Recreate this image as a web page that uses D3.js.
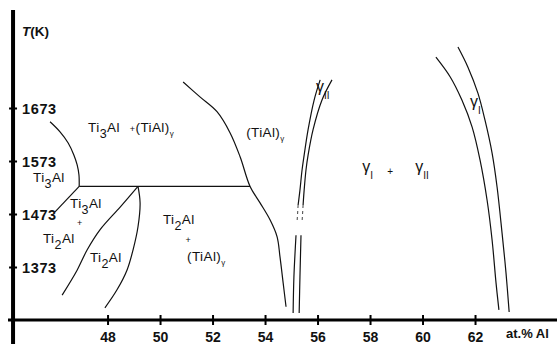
<!DOCTYPE html>
<html>
<head>
<meta charset="utf-8">
<script src="https://cdn.jsdelivr.net/npm/d3@7"></script>
<style>
  html, body { margin: 0; padding: 0; background: #fff; }
  svg { display: block; font-family: "Liberation Sans", Arial, sans-serif; }
</style>
</head>
<body>
<svg id="chart" width="557" height="344"></svg>
<script>
// tick values
const xTicks = [48, 50, 52, 54, 56, 58, 60, 62];
const yTicks = [1373, 1473, 1573, 1673];

// phase boundaries, [at.% Al, T(K)]
const ti3AlSolvus = [[45.81, 1647], [46.19, 1628], [46.50, 1607], [46.72, 1584], [46.84, 1566], [46.91, 1547], [46.92, 1525]];
const eutectoid = [[46.92, 1525], [53.43, 1525]];
const ti3AlTi2Al = [[46.92, 1525], [46.0, 1477]];
const ti2AlLeft = [[49.16, 1525], [48.48, 1486], [47.71, 1443], [47.22, 1405], [46.84, 1367], [46.27, 1320]];
const ti2AlRight = [[49.16, 1525], [49.24, 1494], [49.16, 1449], [48.97, 1405], [48.74, 1367], [48.36, 1330], [47.90, 1296]];
const tiAlBoundary = [[50.88, 1722], [51.52, 1694], [52.17, 1666], [52.67, 1626], [53.05, 1581], [53.43, 1525],
  [53.81, 1494], [54.19, 1462], [54.46, 1430], [54.57, 1392], [54.69, 1343], [54.80, 1298]];

const gammaIILeftUpper = [[56.10, 1726], [55.87, 1688], [55.64, 1632], [55.49, 1584], [55.41, 1556], [55.33, 1518], [55.26, 1490]];
const gammaIILeftDashed = [[55.26, 1490], [55.22, 1458]];
const gammaIILeftLower = [[55.18, 1433], [55.10, 1354], [55.07, 1286]];
const gammaIIRightUpper = [[56.55, 1726], [56.17, 1688], [55.83, 1632], [55.64, 1584], [55.56, 1556], [55.49, 1518], [55.45, 1490]];
const gammaIIRightDashed = [[55.45, 1490], [55.41, 1458]];
const gammaIIRightLower = [[55.37, 1433], [55.33, 1354], [55.30, 1286]];

const gammaILeft = [[60.51, 1769], [61.05, 1732], [61.50, 1688], [61.89, 1637], [62.19, 1575], [62.46, 1499], [62.65, 1424], [62.80, 1343], [62.91, 1292]];
const gammaIRight = [[61.35, 1788], [61.73, 1750], [62.11, 1701], [62.38, 1650], [62.65, 1588], [62.84, 1524], [63.03, 1437], [63.18, 1362], [63.30, 1288]];

// region labels: text parts (sub = subscript, tiny = small subscript, small = small sign), anchored at [at.% Al, T(K)]
const phaseLabels = [
  { parts: [["Ti"], ["3", "sub"], ["Al"]], at: [47.26, 1628] },
  { parts: [["+", "small"], ["(TiAl)"], ["γ", "tiny"]], at: [48.85, 1628] },
  { parts: [["(TiAl)"], ["γ", "tiny"]], at: [53.28, 1618] },
  { parts: [["Ti"], ["3", "sub"], ["Al"]], at: [45.16, 1533] },
  { parts: [["Ti"], ["3", "sub"], ["Al"]], at: [46.57, 1484] },
  { parts: [["+", "small"]], at: [46.84, 1450] },
  { parts: [["Ti"], ["2", "sub"], ["Al"]], at: [45.54, 1418] },
  { parts: [["Ti"], ["2", "sub"], ["Al"]], at: [47.33, 1382] },
  { parts: [["Ti"], ["2", "sub"], ["Al"]], at: [50.11, 1454] },
  { parts: [["+", "small"]], at: [50.97, 1418] },
  { parts: [["(TiAl)"], ["γ", "tiny"]], at: [51.03, 1384] }
];
const gammaLabels = [
  { parts: [["γ"], ["II", "sub"]], at: [55.94, 1703] },
  { parts: [["γ"], ["I", "sub"]], at: [57.70, 1552] },
  { parts: [["+", "small"]], at: [58.66, 1552] },
  { parts: [["γ"], ["II", "sub"]], at: [59.72, 1552] },
  { parts: [["γ"], ["I", "sub"]], at: [61.81, 1675] }
];

const svg = d3.select("#chart");
const width = 557, height = 344;

const xScale = d3.scaleLinear().domain([44.36, 65.1]).range([12, 556.4]);
const yScale = d3.scaleLinear().domain([1273, 1873]).range([320, 2]);

// axes
const xAxis = svg.append("g")
  .attr("transform", `translate(0,${ yScale(1273) })`)
  .call(d3.axisBottom(xScale).tickValues(xTicks).tickSize(5).tickPadding(7).tickFormat(d3.format("d")));
xAxis.select(".domain").remove();
xAxis.selectAll(".tick line").attr("y1", -5).attr("stroke", "#000").attr("stroke-width", 2);
xAxis.selectAll(".tick text")
  .attr("font-size", 14).attr("font-weight", "bold").attr("fill", "#111")
  .attr("font-family", "Liberation Sans, Arial, sans-serif");
xAxis.append("line")
  .attr("x1", 8).attr("x2", width).attr("y1", 0).attr("y2", 0)
  .attr("stroke", "#000").attr("stroke-width", 3);

const yAxis = svg.append("g")
  .attr("transform", `translate(${ xScale(44.4) },0)`)
  .call(d3.axisRight(yScale).tickValues(yTicks).tickSize(4).tickPadding(5).tickFormat(d3.format("d")));
yAxis.select(".domain").remove();
yAxis.selectAll(".tick line").attr("x1", -4).attr("stroke", "#000").attr("stroke-width", 2);
yAxis.selectAll(".tick text")
  .attr("font-size", 14.5).attr("font-weight", "bold").attr("fill", "#111")
  .attr("dy", "0.4em").attr("letter-spacing", 0.6)
  .attr("font-family", "Liberation Sans, Arial, sans-serif");
yAxis.append("line")
  .attr("x1", 0).attr("x2", 0).attr("y1", 10).attr("y2", height)
  .attr("stroke", "#000").attr("stroke-width", 4);

// axis titles
const yTitle = svg.append("text")
  .attr("x", 22).attr("y", 36)
  .attr("font-size", 13.5).attr("font-weight", "bold").attr("fill", "#111");
yTitle.append("tspan").attr("font-style", "italic").text("T");
yTitle.append("tspan").text("(K)");

svg.append("text")
  .attr("x", 506).attr("y", 338)
  .attr("font-size", 13).attr("font-weight", "bold").attr("fill", "#111")
  .text("at.% Al");

// boundaries
const line = d3.line()
  .x(d => xScale(d[0]))
  .y(d => yScale(d[1]))
  .curve(d3.curveCatmullRom.alpha(0.5));

const curves = [ti3AlSolvus, eutectoid, ti3AlTi2Al, ti2AlLeft, ti2AlRight, tiAlBoundary,
  gammaIILeftUpper, gammaIILeftLower, gammaIIRightUpper, gammaIIRightLower, gammaILeft, gammaIRight];
const g = svg.append("g");
g.selectAll("path.solid")
  .data(curves)
  .join("path")
  .attr("class", "solid")
  .attr("fill", "none")
  .attr("stroke", "#111")
  .attr("stroke-width", 1.2)
  .attr("d", line);

g.selectAll("path.dashed")
  .data([gammaIILeftDashed, gammaIIRightDashed])
  .join("path")
  .attr("class", "dashed")
  .attr("fill", "none")
  .attr("stroke", "#555")
  .attr("stroke-width", 1.1)
  .attr("stroke-dasharray", "3,3")
  .attr("d", line);

// labels
function addLabel(sel, parts, sizes) {
  let shifted = 0;
  parts.forEach(([txt, kind]) => {
    const t = sel.append("tspan").text(txt);
    const s = sizes[kind];
    if (s) {
      t.attr("font-size", s.size).attr("dy", s.shift - shifted);
      shifted = s.shift;
    } else {
      t.attr("dy", -shifted);
      shifted = 0;
    }
  });
}

const phaseSizes = { sub: { size: 12.5, shift: 6 }, tiny: { size: 8, shift: 4 }, small: { size: 9, shift: 0 } };
phaseLabels.forEach(l => {
  const t = svg.append("text")
    .attr("x", xScale(l.at[0])).attr("y", yScale(l.at[1]))
    .attr("font-size", 13.5).attr("fill", "#111")
    .attr("letter-spacing", 0.4)
    .style("white-space", "pre");
  addLabel(t, l.parts, phaseSizes);
});

const gammaSizes = { sub: { size: 10, shift: 7 }, small: { size: 10, shift: 3 } };
gammaLabels.forEach(l => {
  const t = svg.append("text")
    .attr("x", xScale(l.at[0])).attr("y", yScale(l.at[1]))
    .attr("font-size", 16).attr("fill", "#111")
    .style("white-space", "pre");
  addLabel(t, l.parts, gammaSizes);
});
</script>
</body>
</html>
